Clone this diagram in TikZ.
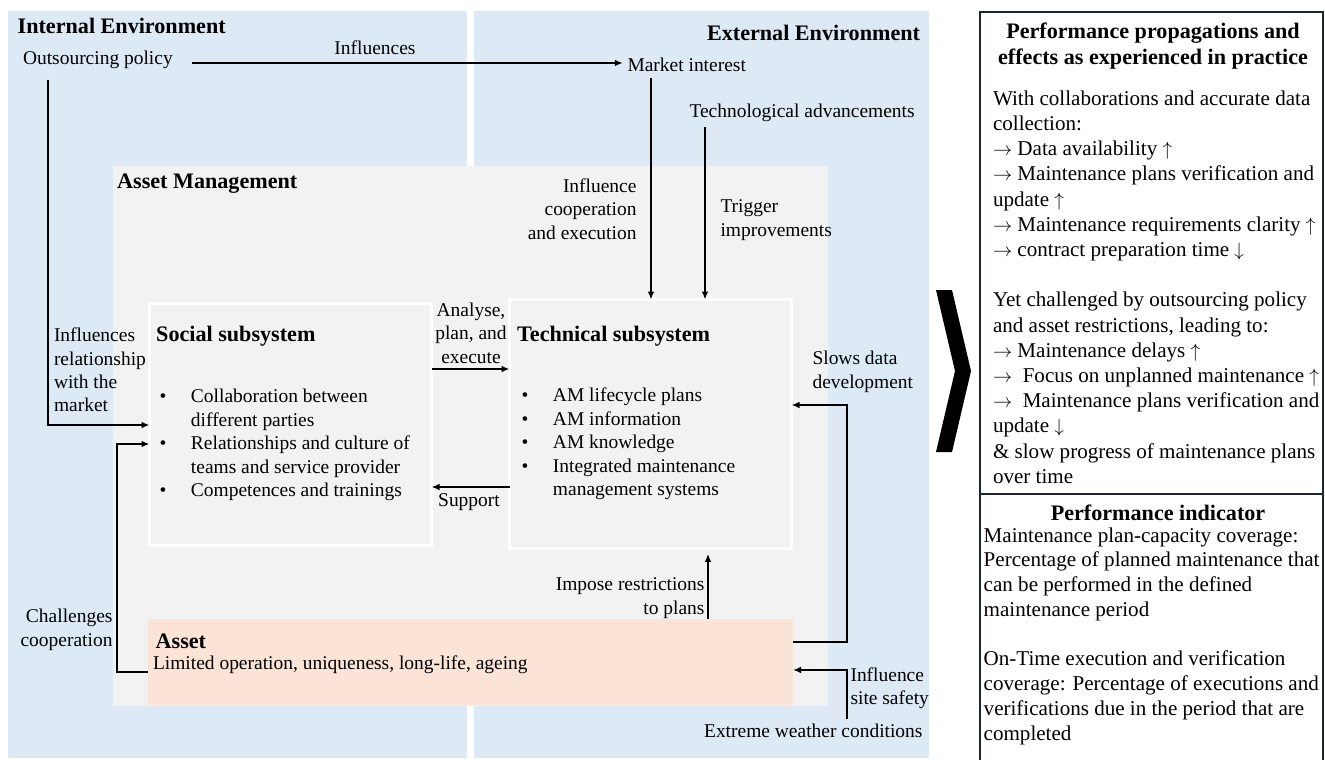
\documentclass[tikz,border=0pt]{standalone}
\usepackage{fontspec}
\setmainfont{Liberation Serif}
\usetikzlibrary{arrows.meta,fit}

\definecolor{envblue}{HTML}{DDEAF6}
\definecolor{amgrey}{HTML}{F2F2F2}
\definecolor{assetpeach}{HTML}{FBE3D6}
\definecolor{framedark}{HTML}{1C2633}

\newcommand\lefttext{\fontsize{14.6}{17.6}\selectfont}
\newcommand\righttext{\fontsize{15.8}{18.9}\selectfont}
\newcommand\indtext{\fontsize{15.8}{18.56}\selectfont}
\newcommand\headfont{\fontsize{16.6}{19.5}\selectfont\bfseries}
\newcommand\bul[1]{\makebox[23.6pt][l]{•}#1}
\newcommand\bulcont[1]{\hspace*{23.6pt}#1}
% trend arrows
\newcommand\ra{$\rightarrow$}
\newcommand\up{$\uparrow$}
\newcommand\dn{$\downarrow$}

\begin{document}
\begin{tikzpicture}[x=0.75pt,y=-0.75pt,
  region/.style={fill=#1, draw=none, inner sep=0pt, outer sep=0pt},
  subsys/.style={fill=amgrey, draw=white, line width=2.25pt, inner sep=0pt, outer sep=0pt},
  lbl/.style={font=\lefttext},
  head/.style={font=\headfont},
  rtext/.style={font=\righttext},
  arr/.style={line width=1.4pt, -{Latex[length=6pt,width=5pt]}},
  panel/.style={draw=framedark, line width=1.3pt, inner sep=0pt, outer sep=0pt}]

\useasboundingbox (0,0) rectangle (1325,760);

% environments
\node[region=envblue, fit={(8,11) (467,758)}] (intbg) {};
\node[region=envblue, fit={(474,11) (929,758)}] (extbg) {};
% asset management area
\node[region=amgrey, fit={(113,166) (828,706)}] (am) {};
% subsystems and asset
\node[subsys, fit={(149.5,303.5) (431.5,545.5)}] (soc) {};
\node[subsys, fit={(509.5,299.5) (791.5,548.5)}] (tec) {};
\node[region=assetpeach, fit={(148,619) (793,705)}] (asset) {};

% headings
\node[head, anchor=west] (intenv) at (13,26) {Internal Environment};
\node[head, anchor=east] (extenv) at (924.7,33) {External Environment};
\node[head, anchor=west] (amtitle) at (112.5,184) {Asset Management};
\node[head, anchor=west] (soctitle) at (151.5,336) {Social subsystem};
\node[head, anchor=west] (tectitle) at (512.5,336) {Technical subsystem};
\node[head, anchor=west] (assettitle) at (151,641) {Asset};

% factors
\node[lbl, anchor=west] (op) at (18.3,60) {Outsourcing policy};
\node[lbl, anchor=west] (mi) at (622.8,64.5) {Market interest};
\node[lbl, anchor=west] (ta) at (684.8,113) {Technological advancements};
\node[lbl, anchor=east] (wc) at (927.2,731) {Extreme weather conditions};
\node[lbl, anchor=west] (assettext) at (148.3,665) {Limited operation, uniqueness, long-life, ageing};

% subsystem contents
\node[lbl, anchor=west, align=left] (soclist) at (154.8,445)
  {\bul{Collaboration between}\\\bulcont{different parties}\\\bul{Relationships and culture of}\\\bulcont{teams and service provider}\\\bul{Competences and trainings}};
\node[lbl, anchor=west, align=left] (teclist) at (516.8,444)
  {\bul{AM lifecycle plans}\\\bul{AM information}\\\bul{AM knowledge}\\\bul{Integrated maintenance}\\\bulcont{management systems}};

% connectors
\coordinate (chal) at (117,444);
\coordinate (slowturn) at (847,405);

\draw[arr, shorten <=11pt] (op.east |- 0,63) -- (mi.west |- 0,63);
\draw[arr, shorten <=4.5pt] (op.south -| 48,0) |- (soc.west |- 0,425);
\draw[arr, shorten <=1.5pt] (mi.south -| 651,0) -- (tec.north -| 651,0);
\draw[arr] (ta.south -| 705,0) -- (tec.north -| 705,0);
\draw[arr] (soc.east |- 0,369) -- (tec.west |- 0,369);
\draw[arr] (tec.west |- 0,487) -- (soc.east |- 0,487);
\draw[arr] (asset.west |- 0,672) -- (chal |- 0,672) -- (chal) -- (soc.west |- chal);
\draw[arr, shorten >=4pt] (asset.north -| 708,0) -- (tec.south -| 708,0);
\draw[arr] (asset.east |- 0,642) -| (slowturn) -- (tec.east |- slowturn);
\draw[arr] (wc.north -| 847,0) |- (asset.east |- 0,670);

% connector labels
\node[lbl] (linfl) at (375,47.5) {Influences};
\node[lbl, anchor=east, align=right] (lcoop) at (641.2,209) {Influence\\cooperation\\and execution};
\node[lbl, anchor=west, align=left] (ltrig) at (715.8,220) {Trigger\\improvements};
\node[lbl, align=center] (lanal) at (471,333) {Analyse,\\plan, and\\execute};
\node[lbl] (lsupp) at (469,502) {Support};
\node[lbl, anchor=west, align=left] (lrel) at (49.3,370) {Influences\\relationship\\with the\\market};
\node[lbl, anchor=east, align=right] (lchal) at (117.2,630) {Challenges\\cooperation};
\node[lbl, anchor=east, align=right] (limp) at (709.2,598) {Impose restrictions\\to plans};
\node[lbl, anchor=west, align=left] (lslow) at (807.8,372) {Slows data\\development};
\node[lbl, anchor=west, align=left] (lsafe) at (845.8,688) {Influence\\site safety};

% chevron leading to the summary panel
\fill (936,290) -- (952,290) -- (971,371) -- (952,452) -- (936,452) -- (955,371) -- cycle;

% summary panel
\node[panel, fit={(980,12) (1323,494)}] (prop) {};
\node[panel, fit={(980,494) (1323,800)}] (ind) {};
\node[head, align=center] (proptitle) at (1153,46) {Performance propagations and\\effects as experienced in practice};
\node[rtext, anchor=west, align=left] (proptext) at (988.3,287)
  {With collaborations and accurate data\\collection:\\\ra{} Data availability \up\\\ra{} Maintenance plans verification and\\update \up\\\ra{} Maintenance requirements clarity \up\\\ra{} contract preparation time \dn\\[18.9pt]Yet challenged by outsourcing policy\\and asset restrictions, leading to:\\\ra{} Maintenance delays \up\\\ra{}\ \ Focus on unplanned maintenance \up\\\ra{}\ \ Maintenance plans verification and\\update \dn\\\& slow progress of maintenance plans\\over time};
\node[head] (indtitle) at (1158,513) {Performance indicator};
\node[font=\indtext, anchor=west, align=left] (indtext) at (979,636)
  {Maintenance plan-capacity coverage:\\Percentage of planned maintenance that\\can be performed in the defined\\maintenance period\\[18.56pt]On-Time execution and verification\\coverage: Percentage of executions and\\verifications due in the period that are\\completed};

\end{tikzpicture}
\end{document}
